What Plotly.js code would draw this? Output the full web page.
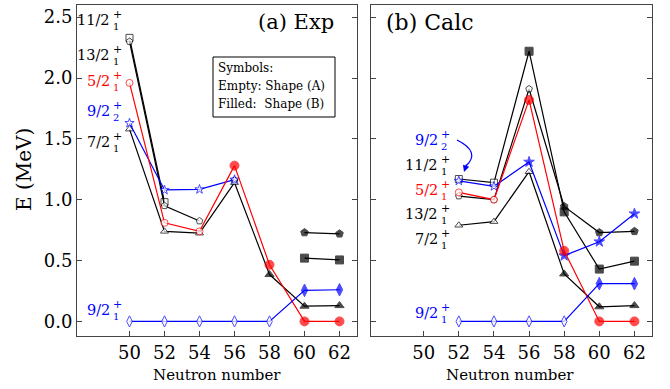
<!DOCTYPE html>
<html>
<head>
<meta charset="utf-8">
<script src="https://cdn.plot.ly/plotly-3.0.1.min.js"></script>
<style>html,body{margin:0;padding:0;background:#fff}#chart{width:670px;height:389px}</style>
</head>
<body>
<div id="chart"></div>
<script>
// ---------- data ----------
const neutronNumbers = [50, 52, 54, 56, 58, 60, 62];
const xTickLabels = ['50', '52', '54', '56', '58', '60', '62'];
const yTickValues = [0, 0.5, 1.0, 1.5, 2.0, 2.5];

// (a) Exp  (shape: 'A' = empty symbol, 'B' = filled symbol)
const exp_11_2 = [2.33, 0.98, null, null, null, 0.52, 0.505];
const exp_11_2_shape = ['A', 'A', 'A', 'A', 'A', 'B', 'B'];
const exp_13_2 = [2.30, 0.95, 0.825, null, null, 0.73, 0.72];
const exp_13_2_shape = ['A', 'A', 'A', 'A', 'A', 'B', 'B'];
const exp_13_2_extraX = [56];
const exp_13_2_extra = [1.16];
const exp_5_2 = [1.96, 0.81, 0.74, 1.28, 0.465, 0.0, 0.0];
const exp_5_2_shape = ['A', 'A', 'A', 'B', 'B', 'B', 'B'];
const exp_9_2_2 = [1.63, 1.08, 1.085, 1.165, null, null, null];
const exp_9_2_2_shape = ['A', 'A', 'A', 'A', 'A', 'A', 'A'];
const exp_7_2 = [1.58, 0.74, 0.725, 1.14, 0.385, 0.125, 0.13];
const exp_7_2_shape = ['A', 'A', 'A', 'A', 'B', 'B', 'B'];
const exp_9_2_1 = [0.0, 0.0, 0.0, 0.0, 0.0, 0.255, 0.26];
const exp_9_2_1_shape = ['A', 'A', 'A', 'A', 'A', 'B', 'B'];

// (b) Calc
const calc_11_2 = [null, 1.17, 1.14, 2.22, 0.90, 0.43, 0.495];
const calc_11_2_shape = ['A', 'A', 'A', 'B', 'B', 'B', 'B'];
const calc_13_2 = [null, 1.03, 1.00, 1.91, 0.945, 0.73, 0.74];
const calc_13_2_shape = ['A', 'A', 'A', 'A', 'B', 'B', 'B'];
const calc_5_2 = [null, 1.06, 1.00, 1.82, 0.58, 0.0, 0.0];
const calc_5_2_shape = ['A', 'A', 'A', 'B', 'B', 'B', 'B'];
const calc_9_2_2 = [null, 1.155, 1.11, 1.31, 0.54, 0.655, 0.885];
const calc_9_2_2_shape = ['A', 'A', 'A', 'B', 'B', 'B', 'B'];
const calc_7_2 = [null, 0.79, 0.82, 1.23, 0.39, 0.12, 0.13];
const calc_7_2_shape = ['A', 'A', 'A', 'A', 'B', 'B', 'B'];
const calc_9_2_1 = [null, 0.0, 0.0, 0.0, 0.0, 0.31, 0.31];
const calc_9_2_1_shape = ['A', 'A', 'A', 'A', 'A', 'B', 'B'];

// ---------- helpers ----------
const W = 670, H = 389;
const PX = x => x / W;
const PY = y => 1 - y / H;
const BLACK = '#000000', RED = '#ff0000', BLUE = '#0000ff';
const FONT = 'DejaVu Serif';

function series(ys, shapes, color, sym, size, xa, ya, xs) {
  xs = xs || neutronNumbers;
  return {
    type: 'scatter', mode: 'lines+markers', x: xs, y: ys,
    xaxis: xa, yaxis: ya, showlegend: false, cliponaxis: false,
    line: {color: color, width: 1.2},
    marker: {
      symbol: sym, size: shapes.map(s => s === 'B' ? size.B : size.A),
      color: shapes.map(s => s === 'B' ? color : '#ffffff'),
      line: {color: color, width: 1}
    }
  };
}

const traces = [
  series(exp_11_2, exp_11_2_shape, BLACK, 'square', {A: 7, B: 8}, 'x', 'y'),
  series(exp_13_2, exp_13_2_shape, BLACK, 'pentagon', {A: 7, B: 8}, 'x', 'y'),
  {type: 'scatter', mode: 'markers', x: exp_13_2_extraX, y: exp_13_2_extra, xaxis: 'x', yaxis: 'y', showlegend: false,
   marker: {symbol: 'pentagon', size: 7, color: '#ffffff', line: {color: BLACK, width: 1}}},
  series(exp_7_2, exp_7_2_shape, BLACK, 'triangle-up', {A: 7, B: 8}, 'x', 'y'),
  series(exp_9_2_2, exp_9_2_2_shape, BLUE, 'star', {A: 7, B: 8}, 'x', 'y'),
  series(exp_5_2, exp_5_2_shape, RED, 'circle', {A: 7, B: 9}, 'x', 'y'),
  series(exp_9_2_1, exp_9_2_1_shape, BLUE, 'diamond-tall', {A: 8, B: 9}, 'x', 'y'),

  series(calc_11_2, calc_11_2_shape, BLACK, 'square', {A: 7, B: 8}, 'x2', 'y2'),
  series(calc_13_2, calc_13_2_shape, BLACK, 'pentagon', {A: 7, B: 8}, 'x2', 'y2'),
  series(calc_7_2, calc_7_2_shape, BLACK, 'triangle-up', {A: 7, B: 8}, 'x2', 'y2'),
  series(calc_9_2_2, calc_9_2_2_shape, BLUE, 'star', {A: 7, B: 8}, 'x2', 'y2'),
  series(calc_5_2, calc_5_2_shape, RED, 'circle', {A: 7, B: 9}, 'x2', 'y2'),
  series(calc_9_2_1, calc_9_2_1_shape, BLUE, 'diamond-tall', {A: 8, B: 9}, 'x2', 'y2')
];

// state labels: main text + stacked sup/sub
const annotations = [];
function stateLabel(xr, yc, main, sub, color) {
  annotations.push({xref: 'paper', yref: 'paper', x: PX(xr), y: PY(yc), xanchor: 'right', yanchor: 'middle',
    text: main, showarrow: false, font: {family: FONT, size: 14.5, color: color}, borderpad: 0});
  annotations.push({xref: 'paper', yref: 'paper', x: PX(xr + 1), y: PY(yc - 5.5), xanchor: 'left', yanchor: 'middle',
    text: '+', showarrow: false, font: {family: FONT, size: 11, color: color}, borderpad: 0});
  annotations.push({xref: 'paper', yref: 'paper', x: PX(xr + 1), y: PY(yc + 6.5), xanchor: 'left', yanchor: 'middle',
    text: sub, showarrow: false, font: {family: FONT, size: 10, color: color}, borderpad: 0});
}
// (a)
stateLabel(111, 20, '11/2', '1', BLACK);
stateLabel(111, 55, '13/2', '1', BLACK);
stateLabel(111, 81, '5/2', '1', RED);
stateLabel(111, 111, '9/2', '2', BLUE);
stateLabel(111, 142, '7/2', '1', BLACK);
stateLabel(111, 310, '9/2', '1', BLUE);
// (b)
stateLabel(439, 140, '9/2', '2', BLUE);
stateLabel(439, 165, '11/2', '1', BLACK);
stateLabel(439, 190, '5/2', '1', RED);
stateLabel(439, 214, '13/2', '1', BLACK);
stateLabel(439, 239, '7/2', '1', BLACK);
stateLabel(439, 313, '9/2', '1', BLUE);

// panel titles
annotations.push({xref: 'paper', yref: 'paper', x: PX(336), y: PY(22), xanchor: 'right', yanchor: 'middle',
  text: '(a) Exp', showarrow: false, font: {family: FONT, size: 21, color: BLACK}});
annotations.push({xref: 'paper', yref: 'paper', x: PX(384), y: PY(22), xanchor: 'left', yanchor: 'middle',
  text: '(b) Calc', showarrow: false, font: {family: FONT, size: 22, color: BLACK}});

// symbols box text
[['Symbols:', 68], ['Empty: Shape (A)', 86], ['Filled:&nbsp;&nbsp;Shape (B)', 104]].forEach(function (t) {
  annotations.push({xref: 'paper', yref: 'paper', x: PX(217), y: PY(t[1]), xanchor: 'left', yanchor: 'middle',
    text: t[0], showarrow: false, font: {family: FONT, size: 12, color: BLACK}, borderpad: 0});
});

// axis titles
annotations.push({xref: 'paper', yref: 'paper', x: PX(24), y: PY(170), xanchor: 'center', yanchor: 'middle',
  text: 'E (MeV)', textangle: -90, showarrow: false, font: {family: FONT, size: 20, color: BLACK}});
annotations.push({xref: 'paper', yref: 'paper', x: PX(217), y: PY(375), xanchor: 'center', yanchor: 'middle',
  text: 'Neutron number', showarrow: false, font: {family: FONT, size: 15, color: BLACK}});
annotations.push({xref: 'paper', yref: 'paper', x: PX(510), y: PY(375), xanchor: 'center', yanchor: 'middle',
  text: 'Neutron number', showarrow: false, font: {family: FONT, size: 15, color: BLACK}});

// arrow head for curved arrow
annotations.push({xref: 'paper', yref: 'paper', x: PX(464), y: PY(172), ax: 3, ay: -9, axref: 'pixel', ayref: 'pixel',
  text: '', showarrow: true, arrowhead: 2, arrowsize: 1.1, arrowwidth: 1.2, arrowcolor: BLUE});

const shapes = [
  {type: 'rect', xref: 'paper', yref: 'paper', x0: PX(213), x1: PX(335), y0: PY(57), y1: PY(117),
   line: {color: BLACK, width: 1}, fillcolor: 'rgba(255,255,255,1)'},
  {type: 'path', xref: 'paper', yref: 'paper',
   path: 'M ' + PX(457) + ',' + PY(140) + ' Q ' + PX(481) + ',' + PY(152) + ' ' + PX(466) + ',' + PY(166),
   line: {color: BLUE, width: 1.2}}
];

const axisCommon = {
  showgrid: false, zeroline: false, showline: true, linecolor: '#444', linewidth: 1,
  ticks: 'inside', ticklen: 5, tickwidth: 1, tickcolor: '#444',
  tickfont: {family: FONT, size: 18, color: BLACK}, automargin: false
};
const xCommon = Object.assign({}, axisCommon, {
  range: [47, 63], tickvals: neutronNumbers, ticktext: xTickLabels, mirror: true
});
const yCommon = Object.assign({}, axisCommon, {
  range: [-0.12, 2.6], tickvals: yTickValues, tickformat: '.1f', mirror: 'ticks'
});

const layout = {
  width: W, height: H, margin: {l: 0, r: 0, t: 0, b: 0},
  paper_bgcolor: '#ffffff', plot_bgcolor: '#ffffff',
  showlegend: false,
  font: {family: FONT, color: BLACK},
  xaxis: Object.assign({}, xCommon, {domain: [PX(77), PX(357)], anchor: 'y'}),
  yaxis: Object.assign({}, yCommon, {domain: [PY(336), PY(5)], anchor: 'x'}),
  xaxis2: Object.assign({}, xCommon, {domain: [PX(371), PX(652)], anchor: 'y2'}),
  yaxis2: Object.assign({}, yCommon, {domain: [PY(336), PY(5)], anchor: 'x2', showticklabels: false}),
  annotations: annotations,
  shapes: shapes
};

Plotly.newPlot('chart', traces, layout, {staticPlot: true, displayModeBar: false});
</script>
</body>
</html>
